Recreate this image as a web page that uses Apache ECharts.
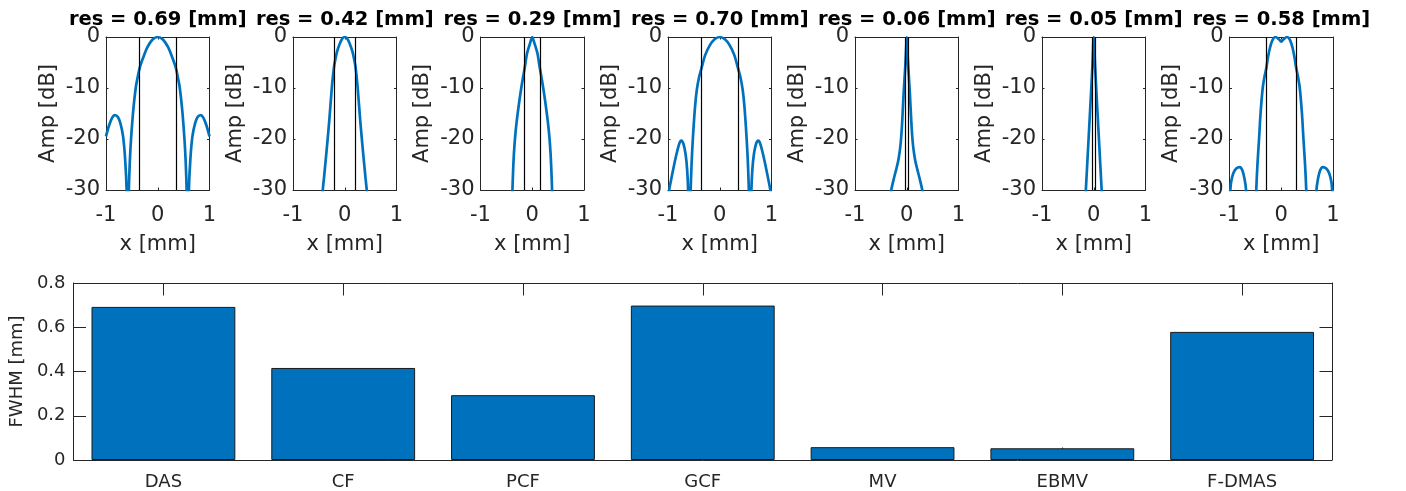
<!DOCTYPE html>
<html>
<head>
<meta charset="utf-8">
<script src="https://cdn.jsdelivr.net/npm/echarts@6/dist/echarts.min.js"></script>
<style>
  html, body { margin: 0; padding: 0; background: #fff; }
  #chart { width: 1406px; height: 491px; }
</style>
</head>
<body>
<div id="chart"></div>
<script>
// beamformer names and measured FWHM (mm)
const methods = ["DAS", "CF", "PCF", "GCF", "MV", "EBMV", "F-DMAS"];
const fwhm = [0.692, 0.416, 0.293, 0.698, 0.058, 0.053, 0.579];

// lateral profiles [x mm, amplitude dB]
const psfDAS = [
  [-1, -19.5], [-0.94, -17.3], [-0.88, -15.8], [-0.83, -15.3], [-0.77, -15.7], [-0.72, -17],
  [-0.67, -19.5], [-0.63, -24], [-0.6, -30.5], [-0.59, -40], [-0.575, -40], [-0.56, -30.5],
  [-0.54, -24.5], [-0.516, -20], [-0.47, -14], [-0.426, -10], [-0.4, -8.5], [-0.348, -6],
  [-0.28, -4], [-0.2, -2], [-0.1, -0.5], [0, 0], [0.1, -0.5], [0.2, -2], [0.28, -4],
  [0.348, -6], [0.4, -8.5], [0.426, -10], [0.47, -14], [0.516, -20], [0.54, -24.5],
  [0.56, -30.5], [0.575, -40], [0.59, -40], [0.6, -30.5], [0.63, -24], [0.67, -19.5],
  [0.72, -17], [0.77, -15.7], [0.83, -15.3], [0.88, -15.8], [0.94, -17.3], [1, -19.5]
];
const psfCF = [
  [-0.45, -33], [-0.43, -30.5], [-0.4, -27.5], [-0.35, -22.2], [-0.3, -16.5], [-0.25, -10],
  [-0.21, -6], [-0.18, -4.3], [-0.15, -2.9], [-0.1, -1.4], [-0.05, -0.35], [0, 0],
  [0.05, -0.35], [0.1, -1.4], [0.15, -2.9], [0.18, -4.3], [0.21, -6], [0.25, -10],
  [0.3, -16.5], [0.35, -22.2], [0.4, -27.5], [0.43, -30.5], [0.45, -33]
];
const psfPCF = [
  [-0.395, -34], [-0.383, -30], [-0.37, -26.3], [-0.355, -23], [-0.33, -19.5], [-0.3, -16.5],
  [-0.25, -12.6], [-0.2, -9.2], [-0.145, -6], [-0.1, -3.2], [-0.06, -1.8], [-0.03, -0.8], [0, 0],
  [0.03, -0.8], [0.06, -1.8], [0.1, -3.2], [0.145, -6], [0.2, -9.2], [0.25, -12.6],
  [0.3, -16.5], [0.33, -19.5], [0.355, -23], [0.37, -26.3], [0.383, -30], [0.395, -34]
];
const psfGCF = [
  [-1, -33], [-0.985, -30.5], [-0.93, -27.5], [-0.87, -24.5], [-0.82, -22.3], [-0.77, -20.6],
  [-0.74, -20.3], [-0.7, -21], [-0.66, -23], [-0.63, -26], [-0.61, -30.5], [-0.6, -40],
  [-0.58, -40], [-0.565, -31], [-0.545, -25], [-0.52, -20], [-0.48, -14], [-0.445, -10.5],
  [-0.4, -7.9], [-0.35, -6], [-0.28, -3.5], [-0.19, -1.6], [-0.1, -0.45], [0, 0],
  [0.1, -0.45], [0.19, -1.6], [0.28, -3.5], [0.35, -6], [0.4, -7.9], [0.445, -10.5],
  [0.48, -14], [0.52, -20], [0.545, -25], [0.565, -31], [0.58, -40], [0.6, -40],
  [0.61, -30.5], [0.63, -26], [0.66, -23], [0.7, -21], [0.74, -20.3], [0.77, -20.6],
  [0.82, -22.3], [0.87, -24.5], [0.93, -27.5], [0.985, -30.5], [1, -33]
];
const psfMV = [
  [-0.32, -31.5], [-0.3, -30], [-0.25, -27.8], [-0.2, -25.8], [-0.16, -24], [-0.13, -22],
  [-0.11, -20], [-0.09, -17], [-0.06, -11], [-0.03, -6], [-0.015, -3], [0, 0],
  [0.015, -3], [0.03, -6], [0.06, -11], [0.09, -17], [0.11, -20], [0.13, -22],
  [0.16, -24], [0.2, -25.8], [0.25, -27.8], [0.3, -30], [0.32, -31.5]
];
const psfEBMV = [
  [-0.16, -31.5], [-0.15, -29.5], [-0.1, -20], [-0.05, -10.5], [-0.025, -5.5], [0, 0],
  [0.025, -5.5], [0.05, -10.5], [0.1, -20], [0.15, -29.5], [0.16, -31.5]
];
const psfFDMAS = [
  [-1, -31], [-0.984, -30], [-0.97, -28.5], [-0.93, -26.8], [-0.87, -25.8], [-0.8, -25.5],
  [-0.75, -26.2], [-0.71, -27.8], [-0.68, -30], [-0.66, -36], [-0.5, -36], [-0.483, -30],
  [-0.46, -25], [-0.429, -20], [-0.4, -15], [-0.358, -10], [-0.32, -7.6], [-0.287, -6],
  [-0.26, -4.2], [-0.22, -2.2], [-0.17, -0.6], [-0.11, 0], [-0.05, -0.4], [0, -0.9],
  [0.05, -0.4], [0.11, 0], [0.17, -0.6], [0.22, -2.2], [0.26, -4.2], [0.287, -6],
  [0.32, -7.6], [0.358, -10], [0.4, -15], [0.429, -20], [0.46, -25], [0.483, -30],
  [0.5, -36], [0.66, -36], [0.68, -30], [0.71, -27.8], [0.75, -26.2], [0.8, -25.5],
  [0.87, -25.8], [0.93, -26.8], [0.97, -28.5], [0.984, -30], [1, -31]
];
const psfCurves = [psfDAS, psfCF, psfPCF, psfGCF, psfMV, psfEBMV, psfFDMAS];

const FONT = "DejaVu Sans";
const INK = "#262626";
const BLUE = "#0072BD";

const topLefts = [106, 293, 480.5, 668, 855, 1042, 1229.5];
const topWidth = 103.5;
const topTop = 37;
const topHeight = 153;

const grids = [];
const xAxes = [];
const yAxes = [];
const series = [];
const titles = [];

function valueAxis(gridIndex, position, min, max, interval, showLabel, tickLen, fontSize, margin) {
  return {
    type: "value", gridIndex, position, min, max, interval,
    axisLine: { show: true, onZero: false, lineStyle: { color: INK, width: 1 } },
    axisTick: { show: true, inside: true, length: tickLen, lineStyle: { color: INK } },
    axisLabel: { show: showLabel, color: INK, fontFamily: FONT, fontSize, margin,
                 showMinLabel: true, showMaxLabel: true },
    splitLine: { show: false }
  };
}

psfCurves.forEach((curve, i) => {
  const left = topLefts[i];
  grids.push({ left, top: topTop, width: topWidth, height: topHeight });

  const xb = valueAxis(i, "bottom", -1, 1, 1, true, 2.5, 21, 15);
  xb.name = "x [mm]";
  xb.nameLocation = "middle";
  xb.nameGap = 44;
  xb.nameTextStyle = { color: INK, fontFamily: FONT, fontSize: 21 };
  xAxes.push(xb);
  xAxes.push(valueAxis(i, "top", -1, 1, 1, false, 2.5, 21, 6));

  const yl = valueAxis(i, "left", -30, 0, 10, true, 2.5, 21, 6);
  yl.name = "Amp [dB]";
  yl.nameLocation = "middle";
  yl.nameGap = 47;
  yl.nameTextStyle = { color: INK, fontFamily: FONT, fontSize: 21 };
  yAxes.push(yl);
  yAxes.push(valueAxis(i, "right", -30, 0, 10, false, 2.5, 21, 6));

  const half = fwhm[i] / 2;
  series.push({
    type: "line",
    xAxisIndex: 2 * i,
    yAxisIndex: 2 * i,
    data: curve,
    showSymbol: false,
    symbol: "none",
    smooth: 0.3,
    clip: true,
    lineStyle: { color: BLUE, width: 2.7 },
    markLine: {
      silent: true,
      symbol: ["none", "none"],
      label: { show: false },
      lineStyle: { color: "#000", width: 1.2, type: "solid" },
      data: [{ xAxis: -half }, { xAxis: half }]
    }
  });

  titles.push({
    text: "res = " + fwhm[i].toFixed(2) + " [mm]",
    left: left + topWidth / 2,
    top: 10,
    padding: 0,
    textAlign: "center",
    textStyle: { color: "#000", fontFamily: FONT, fontSize: 19.5, fontWeight: "bold" }
  });
});

// bottom bar chart
const barGrid = psfCurves.length;
grids.push({ left: 66, top: 283, width: 1266, height: 178 });

const catAxis = (position, showLabel) => ({
  type: "category", gridIndex: barGrid, position, data: methods, boundaryGap: true,
  axisLine: { show: true, onZero: false, lineStyle: { color: INK, width: 1 } },
  axisTick: { show: true, inside: true, alignWithLabel: true, length: 12.5, lineStyle: { color: INK } },
  axisLabel: { show: showLabel, color: INK, fontFamily: FONT, fontSize: 18, margin: 13 },
  splitLine: { show: false }
});
xAxes.push(catAxis("bottom", true));
xAxes.push(catAxis("top", false));

const yb = valueAxis(barGrid, "left", 0, 0.8, 0.2, true, 12.5, 18, 8);
yb.axisLabel.formatter = (v) => (v === 0 ? "0" : String(+v.toFixed(1)));
yb.name = "FWHM [mm]";
yb.nameLocation = "middle";
yb.nameGap = 41;
yb.nameTextStyle = { color: INK, fontFamily: FONT, fontSize: 18 };
yAxes.push(yb);
yAxes.push(valueAxis(barGrid, "right", 0, 0.8, 0.2, false, 12.5, 18, 8));

series.push({
  type: "bar",
  xAxisIndex: 2 * barGrid,
  yAxisIndex: 2 * barGrid,
  data: fwhm,
  barCategoryGap: "20%",
  itemStyle: { color: BLUE, borderColor: "#1a1a1a", borderWidth: 1 }
});

const chart = echarts.init(document.getElementById("chart"), null, { renderer: "canvas" });
chart.setOption({
  animation: false,
  backgroundColor: "#fff",
  title: titles,
  grid: grids,
  xAxis: xAxes,
  yAxis: yAxes,
  series
});
window.addEventListener("resize", () => chart.resize());
</script>
</body>
</html>
